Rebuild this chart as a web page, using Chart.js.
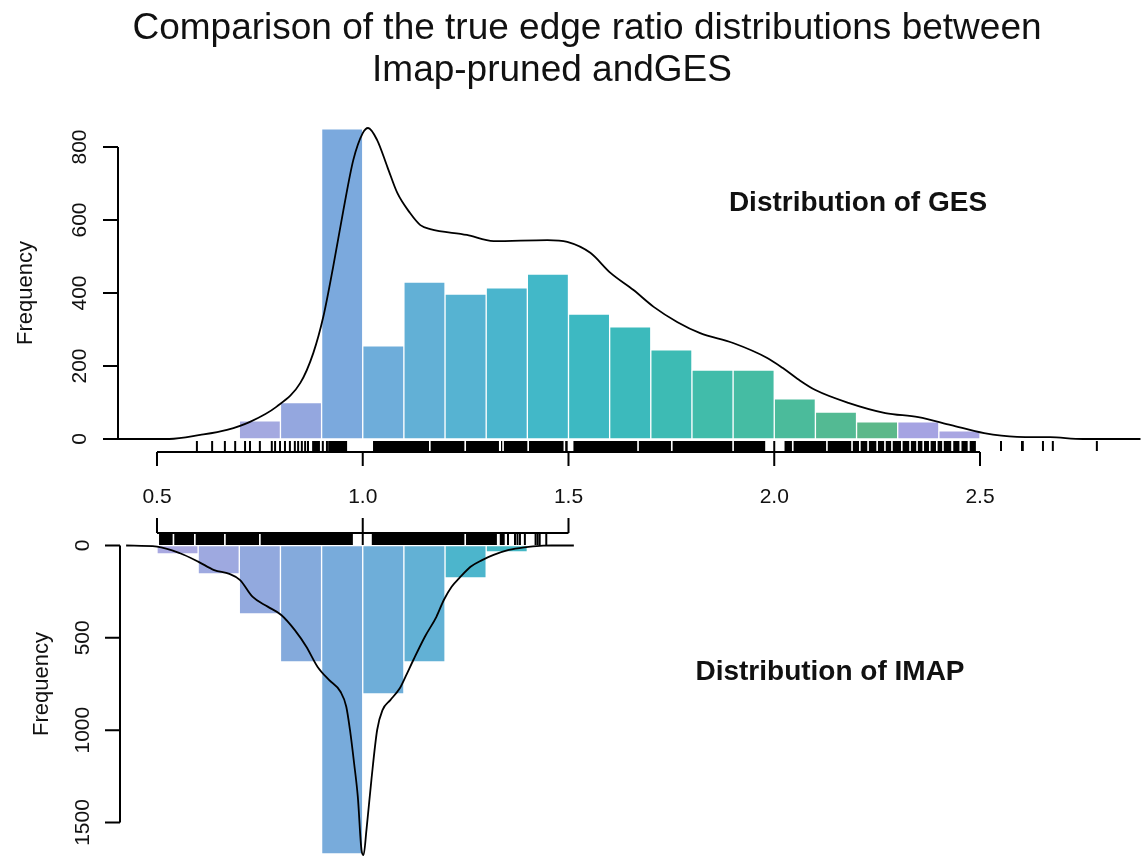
<!DOCTYPE html>
<html>
<head>
<meta charset="utf-8">
<script src="https://cdn.jsdelivr.net/npm/chart.js@4/dist/chart.umd.min.js"></script>
<style>
  html, body { margin: 0; padding: 0; background: #fff; }
  #chart { display: block; }
</style>
</head>
<body>
<canvas id="chart" width="1143" height="860"></canvas>
<script>
/* 데이터 */
// GES histogram (bin centres, width 0.1)
const gesBins = [0.75, 0.85, 0.95, 1.05, 1.15, 1.25, 1.35, 1.45, 1.55, 1.65, 1.75, 1.85, 1.95, 2.05, 2.15, 2.25, 2.35, 2.45];
const gesCounts = [50, 100, 850, 255, 430, 397, 414, 452, 342, 307, 244, 189, 189, 110, 74, 47, 47, 22];
// GES density curve, scaled to counts
const gesDensX = [0.405, 0.53, 0.605, 0.67, 0.726, 0.79, 0.848, 0.88, 0.904, 0.928, 0.953, 0.977, 1.0, 1.013, 1.035, 1.06, 1.084, 1.115, 1.14, 1.164, 1.253, 1.318, 1.449, 1.497, 1.553, 1.602, 1.658, 1.707, 1.765, 1.82, 1.90, 1.983, 2.02, 2.06, 2.10, 2.18, 2.27, 2.35, 2.43, 2.51, 2.59, 2.67, 2.75, 2.89];
const gesDensY = [0, 0, 11, 25, 47, 88, 153, 236, 334, 471, 627, 764, 838, 852, 819, 745, 674, 619, 586, 575, 559, 542, 545, 540, 510, 455, 408, 362, 320, 290, 263, 222, 195, 162, 134, 99, 71, 60, 38, 16, 6, 5, 0, 0];

// IMAP histogram
const imapBins = [0.55, 0.65, 0.75, 0.85, 0.95, 1.05, 1.15, 1.25, 1.35];
const imapCounts = [46, 154, 371, 631, 1670, 804, 631, 176, 35];
const imapDensX = [0.425, 0.500, 0.556, 0.600, 0.639, 0.676, 0.702, 0.732, 0.769, 0.802, 0.835, 0.863, 0.890, 0.918, 0.946, 0.960, 0.969, 0.979, 0.988, 0.997, 1.002, 1.009, 1.021, 1.035, 1.048, 1.067, 1.090, 1.104, 1.123, 1.151, 1.179, 1.197, 1.216, 1.234, 1.262, 1.290, 1.318, 1.355, 1.392, 1.439, 1.458, 1.513];
const imapDensY = [0, 6, 42, 87, 133, 154, 187, 277, 331, 376, 458, 548, 656, 728, 792, 873, 999, 1179, 1360, 1649, 1676, 1541, 1270, 999, 891, 837, 773, 710, 620, 494, 386, 295, 223, 178, 115, 79, 51, 24, 10, 1, 0, 0];

// rug: solid runs [from, to] and single ticks
const gesRugRuns = [[0.877, 0.896], [0.916, 0.962], [1.025, 1.161], [1.165, 1.247], [1.251, 1.331], [1.336, 1.339], [1.343, 1.400], [1.404, 1.488], [1.492, 1.498], [1.512, 1.667], [1.671, 1.749], [1.753, 1.898], [1.902, 1.978], [2.025, 2.043], [2.047, 2.126], [2.130, 2.187], [2.191, 2.206], [2.210, 2.226], [2.230, 2.248], [2.252, 2.267], [2.271, 2.284], [2.288, 2.308], [2.312, 2.328], [2.332, 2.345], [2.349, 2.360], [2.364, 2.376], [2.380, 2.393], [2.397, 2.408], [2.412, 2.430], [2.435, 2.450], [2.455, 2.470], [2.475, 2.490]];
const gesRugTicks = [0.597, 0.634, 0.665, 0.69, 0.714, 0.726, 0.75, 0.779, 0.787, 0.799, 0.811, 0.823, 0.835, 0.843, 0.852, 0.86, 0.867, 0.903, 0.913, 2.0, 2.551, 2.602, 2.604, 2.653, 2.677, 2.784];
const imapRugRuns = [[0.505, 0.538], [0.542, 0.590], [0.594, 0.663], [0.667, 0.748], [0.752, 0.976], [1.022, 1.247], [1.251, 1.326], [1.333, 1.345]];
const imapRugTicks = [1.0, 1.353, 1.37, 1.376, 1.382, 1.394, 1.42, 1.425, 1.43, 1.446];

// axis ticks
const xTicks = [0.5, 1.0, 1.5, 2.0, 2.5];
const xTicksLow = [0.5, 1.0, 1.5];
const gesYTicks = [0, 200, 400, 600, 800];
const imapYTicks = [0, 500, 1000, 1500];

/* 색상 */
const gesColors = ['#a4a9e0', '#94a7df', '#7ba9dd', '#6eadda', '#62b0d6', '#56b3d2', '#4ab5cd', '#42b8c8', '#3db9c2', '#3cbabc', '#3dbbb4', '#41bcaa', '#45bca3', '#4bbb9b', '#53ba93', '#5cb88a', '#a5a3e2', '#a9a6e2'];
const imapColors = ['#a9a9e1', '#9ea9e0', '#92a9de', '#84aadc', '#78abdb', '#6eaed9', '#62b1d5', '#4cb5cc', '#45b8c5'];

const FONT = '"Liberation Sans", Arial, sans-serif';

// R style axes, rugs and titles
const rPlot = {
    id: 'rPlot',
    afterDatasetsDraw(chart) {
        const ctx = chart.ctx;
        const x = chart.scales.x;
        const yTop = chart.scales.yTop;
        const yBot = chart.scales.yBot;

        ctx.save();
        ctx.strokeStyle = '#000';
        ctx.fillStyle = '#000';

        // rugs
        const rug = (runs, ticks, y0, y1) => {
            runs.forEach(([a, b]) => {
                const p0 = x.getPixelForValue(a);
                const p1 = x.getPixelForValue(b);
                ctx.fillRect(p0, y0, p1 - p0, y1 - y0);
            });
            ctx.lineWidth = 2;
            ticks.forEach(v => {
                const p = x.getPixelForValue(v);
                ctx.beginPath();
                ctx.moveTo(p, y0);
                ctx.lineTo(p, y1);
                ctx.stroke();
            });
        };
        rug(gesRugRuns, gesRugTicks, 441, 451);
        rug(imapRugRuns, imapRugTicks, 533, 545);

        ctx.lineWidth = 2;
        // x axis under the upper panel
        ctx.beginPath();
        ctx.moveTo(x.getPixelForValue(xTicks[0]), 452);
        ctx.lineTo(x.getPixelForValue(xTicks[xTicks.length - 1]), 452);
        xTicks.forEach(v => {
            const p = x.getPixelForValue(v);
            ctx.moveTo(p, 452);
            ctx.lineTo(p, 466);
        });
        // x axis over the lower panel
        ctx.moveTo(x.getPixelForValue(xTicksLow[0]), 533);
        ctx.lineTo(x.getPixelForValue(xTicksLow[xTicksLow.length - 1]), 533);
        xTicksLow.forEach(v => {
            const p = x.getPixelForValue(v);
            ctx.moveTo(p, 533);
            ctx.lineTo(p, 518);
        });
        // y axes
        ctx.moveTo(118, yTop.getPixelForValue(0));
        ctx.lineTo(118, yTop.getPixelForValue(800));
        gesYTicks.forEach(v => {
            const p = yTop.getPixelForValue(v);
            ctx.moveTo(118, p);
            ctx.lineTo(103, p);
        });
        ctx.moveTo(120, yBot.getPixelForValue(0));
        ctx.lineTo(120, yBot.getPixelForValue(1500));
        imapYTicks.forEach(v => {
            const p = yBot.getPixelForValue(v);
            ctx.moveTo(120, p);
            ctx.lineTo(105, p);
        });
        ctx.stroke();

        // tick labels
        ctx.fillStyle = '#111';
        ctx.font = '21px ' + FONT;
        ctx.textAlign = 'center';
        ctx.textBaseline = 'middle';
        xTicks.forEach(v => {
            ctx.fillText(v.toFixed(1), x.getPixelForValue(v), 497);
        });
        const vText = (text, px, py) => {
            ctx.save();
            ctx.translate(px, py);
            ctx.rotate(-Math.PI / 2);
            ctx.fillText(text, 0, 0);
            ctx.restore();
        };
        gesYTicks.forEach(v => vText(String(v), 80, yTop.getPixelForValue(v)));
        imapYTicks.forEach(v => vText(String(v), 83, yBot.getPixelForValue(v)));
        ctx.font = '22px ' + FONT;
        vText('Frequency', 26, yTop.getPixelForValue(400));
        vText('Frequency', 42, yBot.getPixelForValue(750));

        // panel labels
        ctx.fillStyle = '#111';
        ctx.font = 'bold 28px ' + FONT;
        ctx.fillText('Distribution of GES', 858, 203);
        ctx.fillText('Distribution of IMAP', 830, 672);

        // main title
        ctx.font = '37px ' + FONT;
        ctx.textBaseline = 'alphabetic';
        ctx.fillText('Comparison of the true edge ratio distributions between', 587, 39);
        ctx.fillText('Imap-pruned andGES', 552, 81);
        ctx.restore();
    }
};

const chartArea = document.getElementById('chart').getContext('2d');

const myChart = new Chart(chartArea, {
    data: {
        datasets: [{
            type: 'line',
            data: gesDensX.map((v, i) => ({ x: v, y: gesDensY[i] })),
            yAxisID: 'yTop',
            borderColor: '#000',
            borderWidth: 1.8,
            pointRadius: 0,
            cubicInterpolationMode: 'monotone',
            fill: false
        }, {
            type: 'line',
            data: imapDensX.map((v, i) => ({ x: v, y: imapDensY[i] })),
            yAxisID: 'yBot',
            borderColor: '#000',
            borderWidth: 1.8,
            pointRadius: 0,
            cubicInterpolationMode: 'monotone',
            fill: false
        }, {
            type: 'bar',
            data: gesBins.map((v, i) => ({ x: v, y: gesCounts[i] })),
            yAxisID: 'yTop',
            backgroundColor: gesColors,
            borderColor: '#fff',
            borderWidth: 1,
            borderSkipped: false,
            grouped: false,
            barPercentage: 1,
            categoryPercentage: 1
        }, {
            type: 'bar',
            data: imapBins.map((v, i) => ({ x: v, y: imapCounts[i] })),
            yAxisID: 'yBot',
            backgroundColor: imapColors,
            borderColor: '#fff',
            borderWidth: 1,
            borderSkipped: false,
            grouped: false,
            barPercentage: 1,
            categoryPercentage: 1
        }]
    },
    options: {
        responsive: false,
        devicePixelRatio: 1,
        animation: false,
        layout: { padding: 0 },
        plugins: {
            legend: { display: false },
            tooltip: { enabled: false }
        },
        scales: {
            x: {
                type: 'linear',
                display: false,
                offset: false,
                min: 0.1185,
                max: 2.8961,
                ticks: { stepSize: 0.5 }
            },
            yTop: {
                type: 'linear',
                display: false,
                min: -1153.5,
                max: 1202.7
            },
            yBot: {
                type: 'linear',
                display: false,
                reverse: true,
                min: -2954,
                max: 1703
            }
        }
    },
    plugins: [rPlot]
});
</script>
</body>
</html>
